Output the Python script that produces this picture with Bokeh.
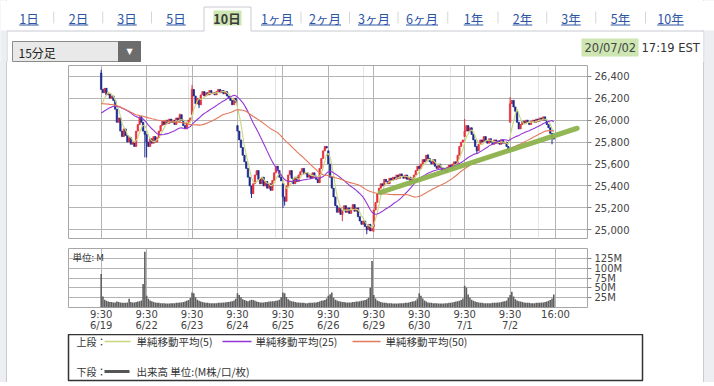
import numpy as np
import pandas as pd
from bokeh.plotting import figure
from bokeh.layouts import column
from bokeh.models import (Range1d, FixedTicker, Grid, NumeralTickFormatter,
                          PrintfTickFormatter, Label, ColumnDataSource)
from bokeh.embed import file_html
from bokeh.resources import INLINE
from bokeh.core.properties import value

# ---------------- data ----------------
day_labels = ["6/19", "6/22", "6/23", "6/24", "6/25", "6/26", "6/29", "6/30", "7/1", "7/2"]
session_open_label = "9:30"
session_close_label = "16:00"
bars_per_day = 26

# first-bar open of each day
day_open = [26430, 25870, 26050, 25950, 25420, 25720, 25030, 25580, 25850, 25980]

# 15-minute closes
c0619 = [26280, 26250, 26290, 26230, 26240, 26200, 26220, 26180, 26100, 25980,
         26020, 25900, 25850, 25920, 25860, 25800, 25840, 25780, 25800, 25760,
         25900, 25960, 26030, 25980, 25900, 25870]
c0622 = [25800, 25760, 25830, 25790, 25850, 25800, 25840, 25900, 25950, 25990,
         25960, 26000, 25970, 26010, 25980, 26000, 25960, 26020, 25990, 26050,
         26000, 25950, 25920, 25980, 26000, 26020]
c0623 = [26280, 26220, 26150, 26200, 26140, 26230, 26260, 26220, 26250, 26230,
         26270, 26240, 26250, 26230, 26260, 26280, 26250, 26270, 26240, 26260,
         26220, 26200, 26180, 26140, 26200, 26160]
c0624 = [25900, 25820, 25750, 25680, 25620, 25560, 25480, 25400, 25330, 25420,
         25500, 25540, 25460, 25420, 25480, 25400, 25440, 25380, 25420, 25360,
         25450, 25520, 25580, 25540, 25480, 25446]
c0625 = [25300, 25260, 25400, 25500, 25540, 25470, 25420, 25480, 25440, 25500,
         25530, 25560, 25510, 25520, 25480, 25500, 25470, 25520, 25490, 25460,
         25430, 25560, 25650, 25720, 25760, 25745]
c0626 = [25600, 25480, 25380, 25300, 25220, 25160, 25200, 25140, 25180, 25220,
         25160, 25200, 25150, 25190, 25230, 25170, 25200, 25120, 25080, 25050,
         25080, 25030, 25000, 25050, 24990, 25015]
c0629 = [25180, 25250, 25330, 25380, 25420, 25400, 25460, 25440, 25420, 25470,
         25450, 25480, 25460, 25500, 25470, 25510, 25490, 25470, 25500, 25460,
         25480, 25440, 25470, 25500, 25540, 25580]
c0630 = [25560, 25600, 25640, 25620, 25680, 25650, 25620, 25600, 25640, 25580,
         25560, 25600, 25570, 25540, 25560, 25530, 25570, 25590, 25560, 25600,
         25620, 25600, 25680, 25760, 25800, 25820]
c0701 = [25900, 25950, 25900, 25930, 25870, 25820, 25760, 25720, 25780, 25820,
         25800, 25850, 25810, 25790, 25830, 25800, 25780, 25820, 25790, 25810,
         25780, 25820, 25790, 25800, 25760, 25735]
c0702 = [26150, 26180, 26120, 26080, 25980, 25920, 25960, 25990, 25970, 26000,
         25980, 25960, 25990, 26000, 25980, 26010, 25990, 26020, 26000, 26030,
         26000, 25960, 25930, 25880, 25840, 25827]

# closes before the window (only feed the moving averages)
prior_close = [26330, 26310, 26320, 26290, 26300, 26280, 26270, 26290, 26260, 26250,
               26270, 26240, 26230, 26250, 26220, 26210, 26230, 26200, 26190, 26210,
               26180, 26160, 26150, 26140, 26120,
               26020, 25990, 26010, 25980, 26000, 26030, 26050, 26040, 26060, 26070,
               26050, 26080, 26060, 26040, 26070, 26050, 26080, 26090, 26070, 26100,
               26090, 26110, 26120, 26080]

# notable wicks (bar index, price)
wick_hi_idx = [0, 45, 52, 187, 208, 234]
wick_hi_val = [26460, 26060, 26320, 25690, 26010, 26210]
wick_lo_idx = [25, 26, 56, 86, 104, 105, 138, 152, 156, 215, 258]
wick_lo_val = [25660, 25660, 26110, 25290, 25200, 25220, 25080, 24960, 24980, 25690, 25780]

# volume, millions
v0619 = [85, 28, 20, 17, 15, 14, 14, 13, 13, 15, 14, 13, 12, 12, 12, 13, 22, 14, 13, 13, 14, 15, 16, 18, 60, 142]
v0622 = [30, 22, 18, 16, 14, 13, 12, 12, 11, 11, 11, 10, 10, 10, 11, 11, 11, 12, 12, 13, 13, 14, 15, 17, 19, 24]
v0623 = [38, 36, 26, 20, 17, 15, 14, 13, 12, 12, 11, 11, 11, 11, 11, 12, 12, 12, 13, 13, 14, 14, 15, 16, 18, 22]
v0624 = [36, 32, 26, 21, 19, 17, 16, 18, 20, 19, 17, 15, 14, 13, 13, 13, 14, 14, 15, 15, 16, 16, 17, 18, 20, 26]
v0625 = [38, 36, 27, 21, 18, 16, 15, 14, 13, 13, 12, 12, 12, 11, 11, 12, 12, 12, 13, 13, 14, 15, 17, 18, 19, 23]
v0626 = [30, 34, 38, 25, 20, 18, 16, 15, 14, 14, 13, 13, 13, 13, 14, 14, 15, 15, 16, 17, 18, 19, 21, 25, 50, 118]
v0629 = [32, 23, 18, 16, 14, 13, 12, 12, 11, 11, 11, 10, 10, 10, 10, 11, 11, 11, 12, 12, 13, 14, 15, 16, 18, 23]
v0630 = [36, 30, 23, 18, 15, 13, 12, 12, 11, 11, 11, 10, 10, 10, 10, 11, 11, 12, 12, 13, 14, 15, 16, 17, 19, 23]
v0701 = [55, 50, 33, 25, 20, 17, 15, 14, 13, 12, 12, 11, 11, 11, 11, 11, 12, 12, 12, 13, 13, 14, 15, 16, 18, 25]
v0702 = [32, 40, 28, 21, 18, 16, 15, 14, 13, 12, 12, 12, 11, 11, 11, 12, 12, 12, 13, 13, 14, 15, 17, 19, 23, 33]

price_ticks = [25000, 25200, 25400, 25600, 25800, 26000, 26200, 26400]
volume_ticks = [25, 50, 75, 100, 125]

# hand-drawn trend line (bar index, price)
trend_x = [159.8, 272.4]
trend_y = [25341, 25926]

tab_labels = ["1日", "2日", "3日", "5日", "10日", "1ヶ月", "2ヶ月", "3ヶ月", "6ヶ月",
              "1年", "2年", "3年", "5年", "10年"]
selected_tab = "10日"
interval_label = "15分足"
date_label = "20/07/02"
time_label = "17:19 EST"
ma_names = ["単純移動平均(5)", "単純移動平均(25)", "単純移動平均(50)"]
ma_windows = [5, 25, 50]
volume_name = "出来高 単位:(M株/口/枚)"

# ---------------- derived ----------------
closes = np.array(c0619 + c0622 + c0623 + c0624 + c0625 + c0626 + c0629 + c0630 + c0701 + c0702, float)
volume = np.array(v0619 + v0622 + v0623 + v0624 + v0625 + v0626 + v0629 + v0630 + v0701 + v0702, float)
n = len(closes)
xi = np.arange(n)
opens = np.empty(n)
opens[1:] = closes[:-1]
for d, o in enumerate(day_open):
    opens[d * bars_per_day] = o
highs = np.maximum(opens, closes)
lows = np.minimum(opens, closes)
for i, v_ in zip(wick_hi_idx, wick_hi_val):
    highs[i] = max(highs[i], v_)
for i, v_ in zip(wick_lo_idx, wick_lo_val):
    lows[i] = min(lows[i], v_)
full = pd.Series(prior_close + list(closes))
mas = [full.rolling(w).mean().values[-n:] for w in ma_windows]

UP, DOWN = "#e5323a", "#1c2b8f"
MA_COLORS = ["#c9d77a", "#9436d4", "#e4785a"]
GRID = "#b4b4b4"
FRAME = "#a6a6a6"
PANEL_LINE = "#c6cad1"
JP = "Noto Sans CJK JP"
NUM = "DejaVu Sans"

day_ticks = [d * bars_per_day for d in range(len(day_labels) + 1)]
x_labels = {t: f"{session_open_label}\n{lab}" for t, lab in zip(day_ticks, day_labels)}
x_labels[day_ticks[-1]] = session_close_label

W = 714
FL, FR = 68, 587          # chart frame left / right (page px)
xr = Range1d(-18.7, 278.3)

# ---------------- header ----------------
hdr = figure(width=W, height=62, x_range=Range1d(0, W), y_range=Range1d(62, 0),
             toolbar_location=None, output_backend="svg", x_axis_location=None,
             y_axis_location=None, min_border=0, frame_align=False)
hdr.grid.visible = False
hdr.outline_line_color = None

tab_cx = [28.5, 78, 126.5, 175.5, 226.5, 276.5, 324.5, 373.5, 421.5, 473, 522, 570.5, 620, 670]
sel = tab_labels.index(selected_tab)
# tab bar baseline (broken under selected tab) and panel edges
hdr.segment(x0=[6.5, 250.5], y0=[30.5, 30.5], x1=[203.5, 703.5], y1=[30.5, 30.5],
            line_color=PANEL_LINE, line_width=1)
hdr.segment(x0=[203.5, 250.5, 203.5], y0=[30.5, 30.5, 6.5], x1=[203.5, 250.5, 250.5], y1=[6.5, 6.5, 6.5],
            line_color=PANEL_LINE, line_width=1)
hdr.segment(x0=[6.5, 703.5], y0=[30.5, 30.5], x1=[6.5, 703.5], y1=[62, 62], line_color=PANEL_LINE, line_width=1)
hdr.quad(left=[0, 704], right=[6, W], top=[30, 30], bottom=[62, 62], fill_color="#eceef2", line_color=None)
# separators
seps = [(tab_cx[i] + tab_cx[i + 1]) / 2 for i in range(len(tab_cx) - 1) if i not in (sel - 1, sel)]
hdr.segment(x0=seps, y0=[11] * len(seps), x1=seps, y1=[23] * len(seps), line_color="#d6d6d6", line_width=1)
# selected highlight
hdr.quad(left=[213], right=[241], top=[10], bottom=[25], fill_color="#cde6b2", line_color=None)


def text_w(s, size=13):
    w = 0
    for ch in s:
        w += size * (0.56 if ch.isascii() else 1.0)
    return w


link_x = [c for i, c in enumerate(tab_cx) if i != sel]
link_t = [t for i, t in enumerate(tab_labels) if i != sel]
hdr.text(x=link_x, y=[17.5] * len(link_x), text=link_t, text_font=value(JP), text_font_size="12.5px",
         text_color="#2c55a6", text_align="center", text_baseline="middle")
ul_w = [text_w(t, 12.5) for t in link_t]
hdr.segment(x0=[c - w / 2 for c, w in zip(link_x, ul_w)], y0=[24.5] * len(link_x),
            x1=[c + w / 2 for c, w in zip(link_x, ul_w)], y1=[24.5] * len(link_x),
            line_color="#2c55a6", line_width=1)
hdr.text(x=[tab_cx[sel]], y=[17.5], text=[selected_tab], text_font=value(JP), text_font_size="12.5px",
         text_font_style="bold", text_color="#3a3a3a", text_align="center", text_baseline="middle")

# interval drop-down
hdr.quad(left=[12], right=[140], top=[41], bottom=[61], fill_color="#e9e9e9", line_color="#8c8c8c")
hdr.quad(left=[118], right=[140], top=[41], bottom=[61], fill_color="#6c6c6c", line_color="#6c6c6c")
hdr.text(x=[18], y=[51.5], text=[interval_label], text_font=value(JP), text_font_size="12px",
         text_color="#222222", text_baseline="middle")
hdr.text(x=[129], y=[51], text=["▼"], text_font=value(NUM), text_font_size="8px",
         text_color="#ffffff", text_align="center", text_baseline="middle")

# date
hdr.quad(left=[581], right=[638], top=[38], bottom=[56], fill_color="#cde6b2", line_color=None)
hdr.text(x=[584], y=[47], text=[date_label], text_font=value(NUM), text_font_size="11.5px",
         text_color="#444444", text_baseline="middle")
hdr.text(x=[641], y=[47], text=[time_label], text_font=value(NUM), text_font_size="11.5px",
         text_color="#333333", text_baseline="middle")


def style_right_axis(ax):
    ax.axis_line_color = None
    ax.major_tick_out = 4
    ax.major_tick_in = 0
    ax.minor_tick_line_color = None
    ax.major_tick_line_color = "#888888"
    ax.major_label_text_font = NUM
    ax.major_label_text_font_size = "10px"
    ax.major_label_text_color = "#444444"
    ax.major_label_standoff = 3


# ---------------- price ----------------
p = figure(width=W, height=181, x_range=xr, y_range=Range1d(24921, 26498),
           toolbar_location=None, output_backend="svg", x_axis_location=None,
           y_axis_location="right", min_border_left=FL, min_border_right=W - FR,
           min_border_top=3, min_border_bottom=5)
p.outline_line_color = FRAME
pt = FixedTicker(ticks=price_ticks)
p.yaxis.ticker = pt
p.ygrid.ticker = pt
p.yaxis.formatter = NumeralTickFormatter(format="0,0")
style_right_axis(p.yaxis[0])
p.ygrid.grid_line_color = GRID
p.add_layout(Grid(dimension=0, ticker=FixedTicker(ticks=day_ticks), grid_line_color=GRID))

src = ColumnDataSource(dict(x=xi, high=highs, low=lows,
                            top=np.maximum(opens, closes), bottom=np.minimum(opens, closes),
                            color=[UP if c >= o else DOWN for o, c in zip(opens, closes)]))
p.segment(x0="x", y0="high", x1="x", y1="low", line_color="color", line_width=1, source=src)
p.vbar(x="x", width=0.85, top="top", bottom="bottom", fill_color="color", line_color="color",
       line_width=0.6, source=src)
for ma, col in zip(mas, MA_COLORS):
    p.line(xi, ma, line_color=col, line_width=1.1)
p.line(trend_x, trend_y, line_color="#8db24e", line_width=5, line_alpha=0.95, line_cap="round")

# ---------------- volume ----------------
v = figure(width=W, height=91, x_range=xr, y_range=Range1d(0, 150),
           toolbar_location=None, output_backend="svg", y_axis_location="right",
           min_border_left=FL, min_border_right=W - FR, min_border_top=5, min_border_bottom=23)
v.outline_line_color = FRAME
vt = FixedTicker(ticks=volume_ticks)
v.yaxis.ticker = vt
v.ygrid.ticker = vt
v.yaxis.formatter = PrintfTickFormatter(format="%dM")
style_right_axis(v.yaxis[0])
dt = FixedTicker(ticks=day_ticks)
v.xaxis.ticker = dt
v.xgrid.ticker = dt
v.xaxis.major_label_overrides = x_labels
v.xaxis.axis_line_color = None
v.xaxis.major_tick_line_color = None
v.xaxis.minor_tick_line_color = None
v.xaxis.major_tick_out = 0
v.xaxis.major_label_standoff = 1
v.xaxis.major_label_text_font = NUM
v.xaxis.major_label_text_font_size = "10px"
v.xaxis.major_label_text_color = "#444444"
v.xaxis.major_label_text_line_height = 1.05
v.xgrid.grid_line_color = GRID
v.ygrid.grid_line_color = GRID
v.vbar(x=xi, width=0.9, top=volume, bottom=0, fill_color="#5e5e5e", line_color=None)
v.add_layout(Label(x=xr.start, y=150, x_offset=4, y_offset=-1, text="単位: M", text_font=JP,
                   text_font_size="9.5px", text_color="#333333", text_baseline="top"))

# ---------------- legend ----------------
LR = 642
leg = figure(width=W, height=48, x_range=Range1d(FL, LR), y_range=Range1d(380, 334),
             toolbar_location=None, output_backend="svg", x_axis_location=None,
             y_axis_location=None, min_border_left=FL, min_border_right=W - LR,
             min_border_top=0, min_border_bottom=2, frame_align=False)
leg.grid.visible = False
leg.outline_line_color = "#333333"
leg.outline_line_width = 1.5
row1, row2 = 341, 371
leg.text(x=[76, 76], y=[row1, row2], text=["上段：", "下段："], text_font=value(JP),
         text_font_size="10px", text_color="#333333", text_baseline="middle")
lx0, lx1, tx = [104, 222, 352], [130, 251, 380], [136, 255, 385]
for a, b, c, name, col in zip(lx0, lx1, tx, ma_names, MA_COLORS):
    leg.line([a, b], [row1, row1], line_color=col, line_width=1.5)
    leg.text(x=[c], y=[row1], text=[name], text_font=value(JP), text_font_size="10.5px",
             text_color="#333333", text_baseline="middle")
leg.line([104, 129], [row2, row2], line_color="#555555", line_width=3)
leg.text(x=[136], y=[row2], text=[volume_name], text_font=value(JP), text_font_size="10.5px",
         text_color="#333333", text_baseline="middle")

for f in (p, v, leg):
    f.border_fill_color = None
    f.background_fill_color = "#ffffff"

bg = ("linear-gradient(to right, #eceef2 0px, #eceef2 6px, #c6cad1 6px, #c6cad1 7px, "
      "#ffffff 7px, #ffffff 703px, #c6cad1 703px, #c6cad1 704px, #eceef2 704px, #eceef2 714px)")
layout = column(hdr, p, v, leg, styles={"background": bg})
open("out.html", "w").write(file_html(layout, INLINE))
